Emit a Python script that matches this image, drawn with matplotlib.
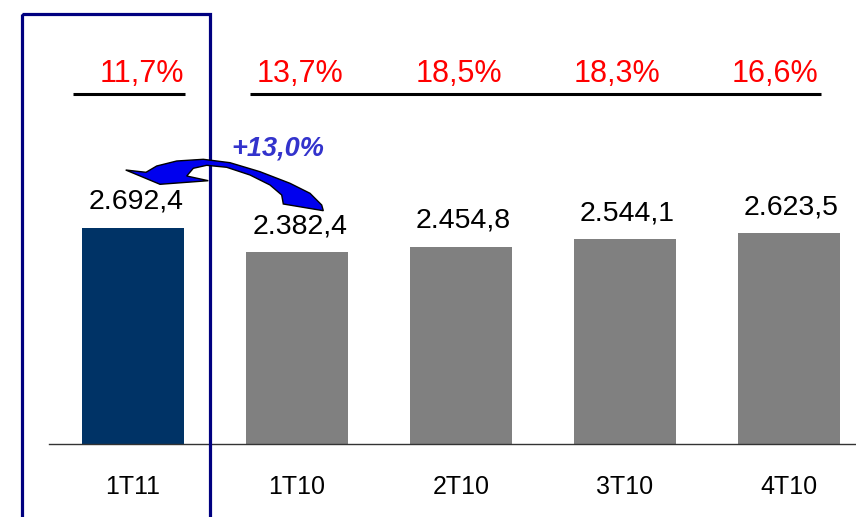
import matplotlib.pyplot as plt
from matplotlib.patches import Polygon, Rectangle

# data
quarters = ["1T11", "1T10", "2T10", "3T10", "4T10"]
values = [2692.4, 2382.4, 2454.8, 2544.1, 2623.5]
value_labels = ["2.692,4", "2.382,4", "2.454,8", "2.544,1", "2.623,5"]
margins = ["11,7%", "13,7%", "18,5%", "18,3%", "16,6%"]
growth_label = "+13,0%"

bar_colors = ["#003366"] + ["#808080"] * 4

plt.rcParams["font.family"] = ["Liberation Sans", "DejaVu Sans"]

W, H = 856, 517
fig = plt.figure(figsize=(W / 100, H / 100), dpi=100)

# main bar axes
ax = fig.add_axes([49 / W, (H - 444) / H, 1 - 49 / W, 444 / H])
x = list(range(len(quarters)))
ax.bar(x, values, width=0.62, color=bar_colors, zorder=2)
ax.set_xlim(-0.512, 4.41)
ax.set_ylim(0, 5522)
for i, v in enumerate(values):
    ax.annotate(value_labels[i], (i, v), xytext=(2, 18.5), textcoords="offset points",
                ha="center", va="center", fontsize=20.5, color="black")
ax.set_xticks(x)
ax.set_xticklabels(quarters, fontsize=18)
ax.tick_params(axis="x", length=0, pad=22)
ax.set_yticks([])
for s in ["top", "right", "left"]:
    ax.spines[s].set_visible(False)
ax.spines["bottom"].set_color("#333333")
ax.spines["bottom"].set_linewidth(1)
ax.patch.set_alpha(0)

# overlay in pixel coordinates for the decorations
ov = fig.add_axes([0, 0, 1, 1], zorder=5)
ov.set_xlim(0, W)
ov.set_ylim(H, 0)
ov.axis("off")
ov.patch.set_alpha(0)

# margin labels above the bars
for i, m in enumerate(margins):
    xd = i + 0.055 - 0.034 * i
    xp = ax.transData.transform((xd, 0))[0]
    ov.text(xp, 74.5, m, ha="center", va="center", fontsize=22, color="#FF0000")
ov.plot([73, 185.5], [94.3, 94.3], color="black", lw=2.2, solid_capstyle="butt")
ov.plot([250.5, 821], [94.3, 94.3], color="black", lw=2.2, solid_capstyle="butt")

# highlight box around the first quarter
ov.add_patch(Rectangle((22.5, 13.5), 187.5, 520, fill=False, edgecolor="#000080", lw=2.3))

# curved arrow
arrow_pts = [
    (125.7, 170), (146, 172.3), (156.7, 166), (176.7, 161), (203.3, 159.3),
    (230, 162.7), (260, 171.7), (290, 183.3), (310, 193.3), (321.7, 205),
    (323.3, 210.7), (283.3, 204), (281.7, 195), (270, 185), (250, 175),
    (226.7, 167.3), (206.7, 165.3), (193.3, 168.3), (186.7, 176),
    (208.3, 180.7), (160, 184.3),
]
ov.add_patch(Polygon(arrow_pts, closed=True, facecolor="#0000EE", edgecolor="black", lw=1))
ov.text(277.5, 149, growth_label, ha="center", va="center", fontsize=19.5,
        fontweight="bold", fontstyle="italic", color="#3333CC")

fig.savefig("out.png", dpi=100)
